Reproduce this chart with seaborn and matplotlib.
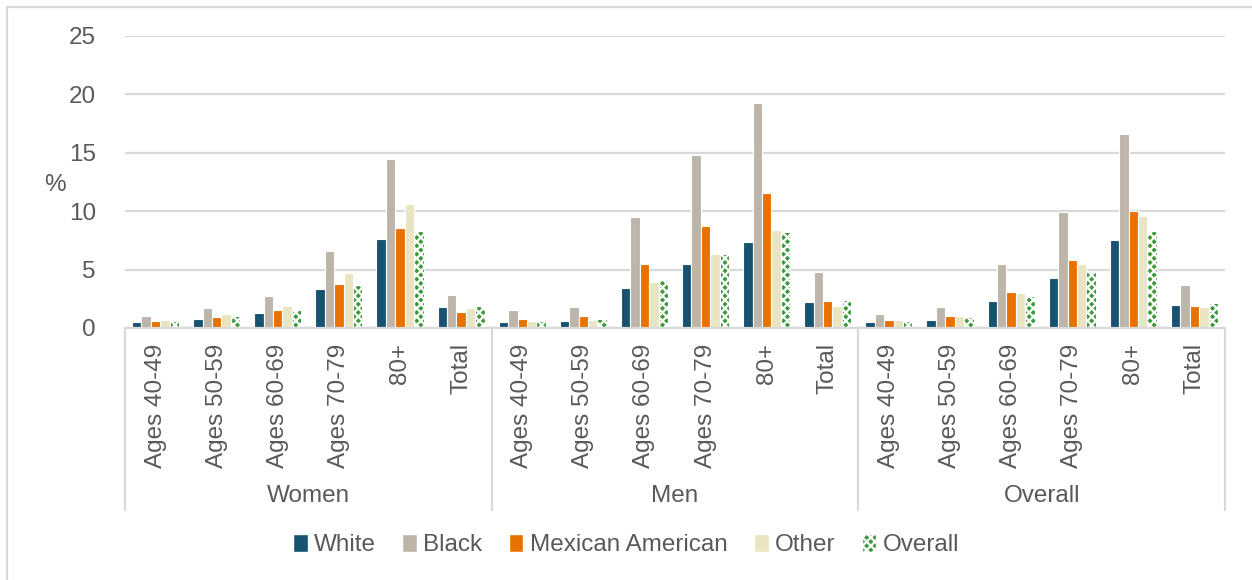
import matplotlib
matplotlib.use("Agg")
import matplotlib.pyplot as plt
from matplotlib.patches import Patch, Rectangle
from matplotlib.transforms import blended_transform_factory
import numpy as np
import pandas as pd
import seaborn as sns

# ---- data -----------------------------------------------------------------
groups = ["Women", "Men", "Overall"]
age_labels = ["Ages 40-49", "Ages 50-59", "Ages 60-69", "Ages 70-79", "80+", "Total"]
series = ["White", "Black", "Mexican American", "Other", "Overall"]

white = [0.5, 0.8, 1.3, 3.3, 7.6, 1.8,
         0.5, 0.6, 3.4, 5.5, 7.4, 2.2,
         0.5, 0.7, 2.3, 4.3, 7.5, 2.0]
black = [1.0, 1.7, 2.7, 6.6, 14.5, 2.8,
         1.5, 1.8, 9.5, 14.8, 19.3, 4.8,
         1.2, 1.8, 5.5, 9.9, 16.6, 3.7]
mexican = [0.6, 0.9, 1.5, 3.8, 8.6, 1.4,
           0.8, 1.0, 5.5, 8.7, 11.6, 2.3,
           0.7, 1.0, 3.1, 5.8, 10.0, 1.9]
other = [0.7, 1.2, 1.9, 4.7, 10.6, 1.7,
         0.6, 0.7, 3.9, 6.3, 8.4, 1.9,
         0.7, 1.0, 3.0, 5.5, 9.6, 1.8]
overall = [0.6, 1.0, 1.5, 3.7, 8.3, 1.9,
           0.6, 0.8, 4.1, 6.3, 8.2, 2.4,
           0.6, 0.9, 2.7, 4.8, 8.3, 2.1]

colors = {"White": "#175270", "Black": "#bdb5aa", "Mexican American": "#e87200",
          "Other": "#e9e4c1", "Overall": "#3c9a3c"}

# ---- long table -------------------------------------------------------------
keys = [f"{g}|{a}" for g in groups for a in age_labels]
values = {"White": white, "Black": black, "Mexican American": mexican,
          "Other": other, "Overall": overall}
rows = []
for s in series:
    for k, v in zip(keys, values[s]):
        rows.append({"cat": k, "series": s, "pct": v})
df = pd.DataFrame(rows)

# ---- figure -----------------------------------------------------------------
sns.set_theme(style="white")
plt.rcParams["font.family"] = ["Liberation Sans", "DejaVu Sans"]
plt.rcParams["hatch.linewidth"] = 1.6
txt = "#595959"
grid_c = "#d9d9d9"
fs = 17.5

W, H = 1252, 580
fig = plt.figure(figsize=(W / 100, H / 100), dpi=100)
ax = fig.add_axes([125 / W, 1 - 328 / H, 1100 / W, 292 / H])

sns.barplot(data=df, x="cat", y="pct", hue="series", order=keys,
            hue_order=series, palette=colors, width=0.77, saturation=1,
            edgecolor="white", linewidth=0.8, legend=False, ax=ax)

# checkered fill for the "Overall" series
for bar in ax.containers[-1]:
    bar.set_facecolor(colors["Overall"])
    bar.set_edgecolor("white")
    bar.set_hatch("xxxx")

ax.set_ylim(0, 25)
ax.set_xlim(-0.5, len(keys) - 0.5)
ax.set_yticks(range(0, 26, 5))
ax.yaxis.grid(True, color=grid_c, linewidth=1.6)
ax.set_axisbelow(True)
for sp in ax.spines.values():
    sp.set_visible(False)
ax.tick_params(axis="y", length=0, pad=21, labelsize=fs, labelcolor=txt)
ax.tick_params(axis="x", length=0, pad=11, labelsize=fs, labelcolor=txt)
ax.set_xticks(range(len(keys)))
ax.set_xticklabels([k.split("|")[1] for k in keys], rotation=90, va="top")
ax.set_xlabel("")
ax.set_ylabel("")

# category axis frame: baseline and group separators
trans = blended_transform_factory(ax.transData, ax.transAxes)
ax.plot([-0.5, len(keys) - 0.5], [0, 0], transform=trans, color=grid_c,
        lw=1.6, clip_on=False)
sep_bottom = -(510 - 328) / 292
for xs in [-0.5, 5.5, 11.5, 17.5]:
    ax.plot([xs, xs], [0, sep_bottom], transform=trans, color=grid_c,
            lw=1.6, clip_on=False)
for i, g in enumerate(groups):
    ax.text(i * 6 + 2.5, -(496 - 328) / 292, g, transform=trans,
            ha="center", va="center", fontsize=fs, color=txt)

fig.text(55 / W, 1 - 185 / H, "%", ha="center", va="center",
         fontsize=fs, color=txt)

handles = [Patch(facecolor=colors[s], edgecolor="white",
                 hatch="xxxx" if s == "Overall" else None) for s in series]
fig.legend(handles, series, loc="center", bbox_to_anchor=(0.5, 1 - 545 / H),
           ncol=5, frameon=False, fontsize=fs, labelcolor=txt,
           handlelength=0.6, handleheight=0.75, handletextpad=0.25,
           columnspacing=1.1)

# chart border
fig.add_artist(Rectangle((6.5 / W, -0.05), 1.2, 1 - 6.5 / H + 0.05,
                         transform=fig.transFigure, fill=False,
                         edgecolor=grid_c, linewidth=1.6))

fig.savefig("out.png", dpi=100, facecolor="white")
